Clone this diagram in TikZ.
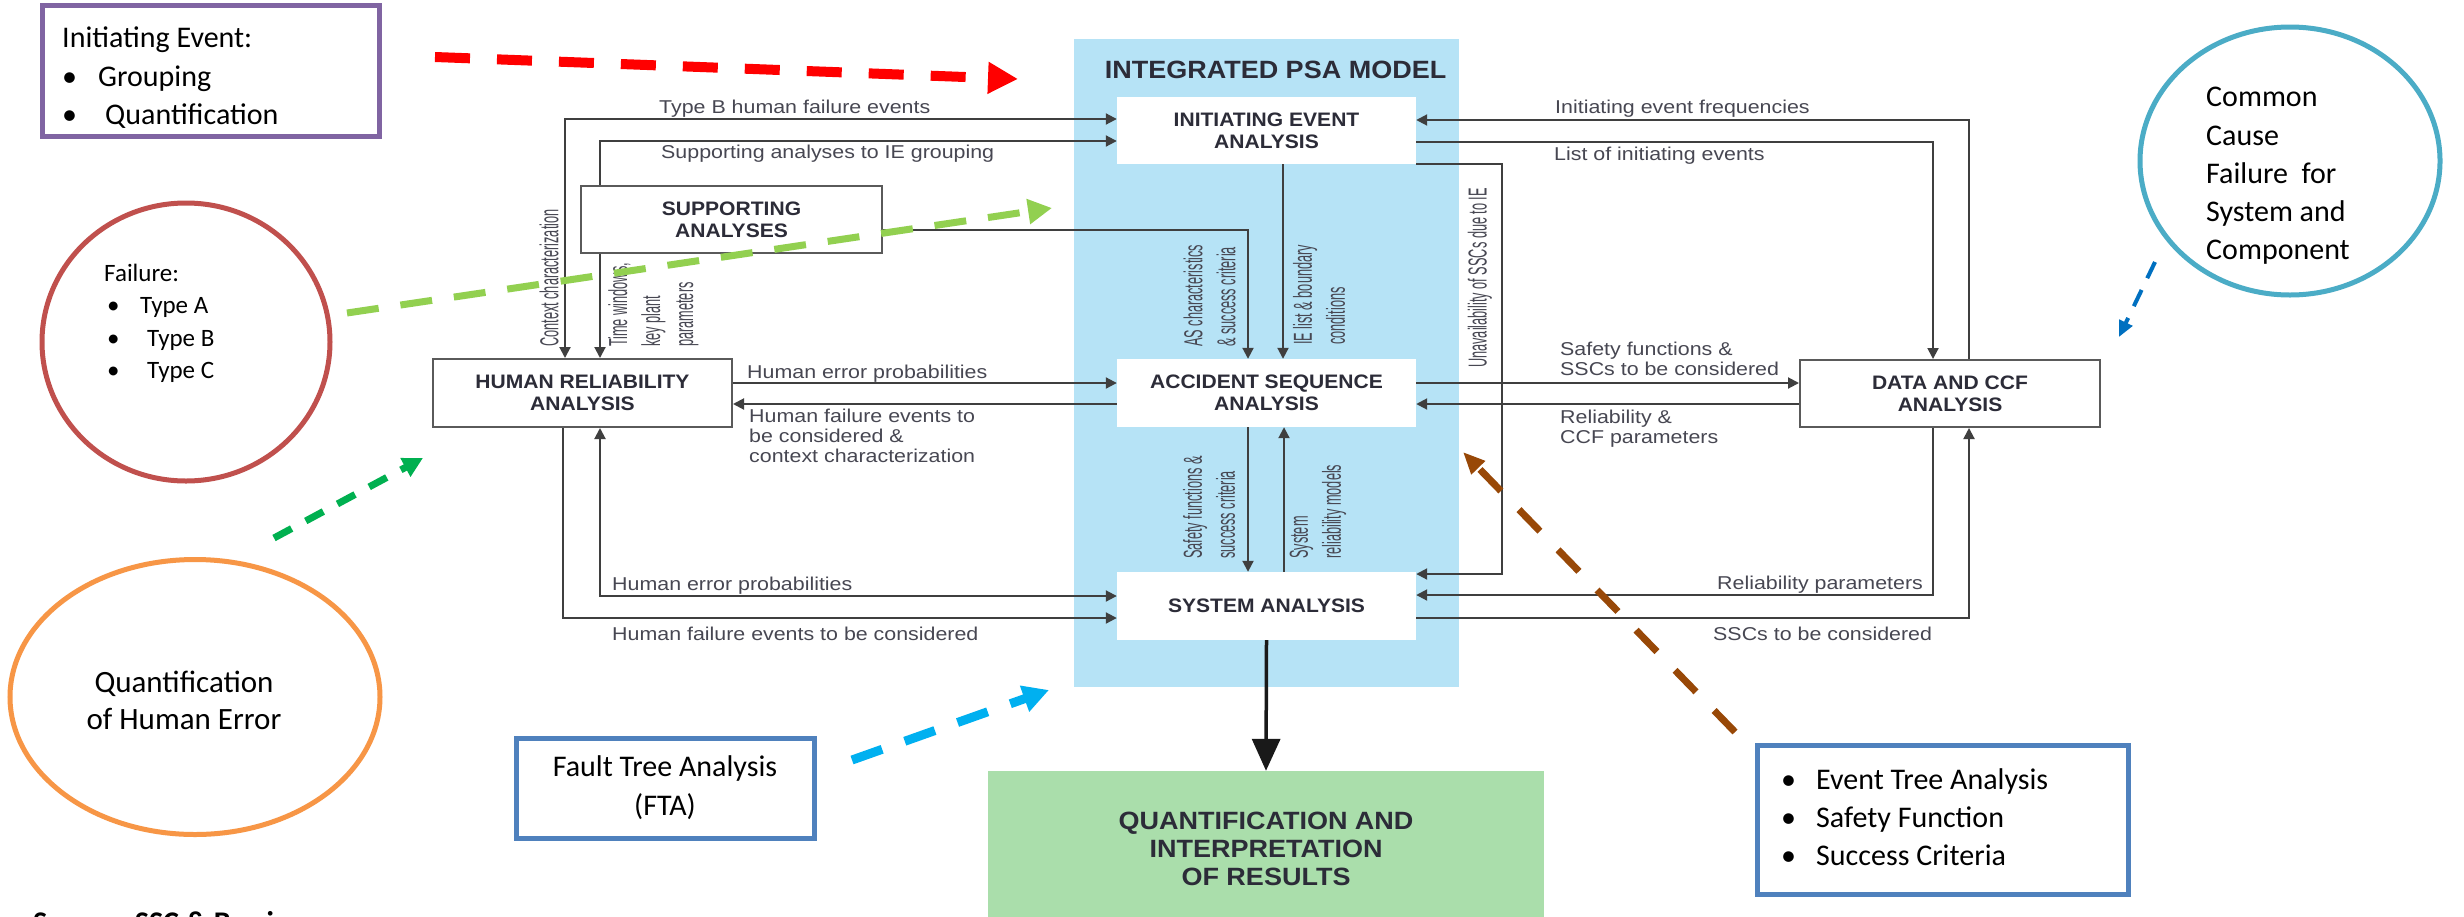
\documentclass[tikz,border=0pt]{standalone}
\usepackage{fontspec}
\setmainfont{Carlito}
\newfontfamily\lblfont[FakeStretch=1.15]{Liberation Sans}
\newfontfamily\rotfont[FakeStretch=0.49]{Liberation Sans}
\newfontfamily\ttlfont[FakeStretch=1.08]{Liberation Sans}
\usetikzlibrary{arrows.meta,shapes.geometric}

\definecolor{bandblue}{HTML}{B6E3F6}
\definecolor{resgreen}{HTML}{AADEAB}
\definecolor{linegray}{HTML}{3F3F3F}
\definecolor{boxgray}{HTML}{5A5A5A}
\definecolor{labgray}{HTML}{474752}
\definecolor{ttlgray}{HTML}{2C2C38}
\definecolor{purp}{HTML}{8064A2}
\definecolor{redc}{HTML}{C0504D}
\definecolor{orng}{HTML}{F79646}
\definecolor{ccfteal}{HTML}{4BACC6}
\definecolor{boxblue}{HTML}{4F81BD}
\definecolor{arrred}{HTML}{FF0000}
\definecolor{arrlgreen}{HTML}{92D050}
\definecolor{arrdgreen}{HTML}{00B050}
\definecolor{arrcyan}{HTML}{00B0F0}
\definecolor{arrbrown}{HTML}{984807}
\definecolor{arrblue}{HTML}{0070C0}

\begin{document}
\begin{tikzpicture}[x=1pt,y=-1pt,
  >={Triangle[length=11pt,width=11pt]},
  conn/.style={draw=linegray,line width=2pt},
  inbox/.style={fill=white,inner sep=0pt,minimum width=299pt,minimum height=67pt,
    align=center,text=ttlgray,font={\ttlfont\bfseries\fontsize{19.5}{22}\selectfont}},
  outbox/.style={inbox,draw=boxgray,line width=2pt},
  lab/.style={inner sep=0pt,anchor=base west,align=left,text=labgray,
    font={\lblfont\fontsize{18.6}{20}\selectfont}},
  rlab/.style={inner sep=0pt,rotate=90,anchor=west,align=left,text=labgray,
    font={\rotfont\fontsize{26}{33}\selectfont}},
  note/.style={inner sep=0pt,align=left,text=black,font={\fontsize{30}{38.5}\selectfont}},
  callout/.style={line width=#1},
]
\useasboundingbox (0,0) rectangle (2464,916);
\fill[white] (0,0) rectangle (2464,916);

% ---------- integrated PSA model ----------
\node[fill=bandblue,inner sep=0pt,minimum width=385pt,minimum height=648pt,anchor=north west] (band) at (1074,39) {};
\node[anchor=base,inner sep=0pt,text=ttlgray,font={\ttlfont\bfseries\fontsize{25}{28}\selectfont}] (bandtitle) at (1275.5,78) {INTEGRATED PSA MODEL};

\node[inbox] (iea) at (1266.5,130.5) {INITIATING EVENT\\ANALYSIS};
\node[inbox,minimum height=68pt] (asa) at (1266.5,393) {ACCIDENT SEQUENCE\\ANALYSIS};
\node[inbox,minimum height=68pt] (sys) at (1266.5,606) {SYSTEM ANALYSIS};
\node[outbox,minimum width=301pt] (supp) at (731.5,219.5) {SUPPORTING\\ANALYSES};
\node[outbox,minimum height=68pt] (hra) at (582.5,393) {HUMAN RELIABILITY\\ANALYSIS};
\node[outbox,minimum width=300pt] (data) at (1950,393.5) {DATA AND CCF\\ANALYSIS};
\node[fill=resgreen,inner sep=0pt,minimum width=556pt,minimum height=156pt,align=center,text=ttlgray,
  font={\ttlfont\bfseries\fontsize{25}{28}\selectfont}] (res) at (1266,849) {QUANTIFICATION AND\\INTERPRETATION\\OF RESULTS};

% ---------- connector levels ----------
\coordinate (kTB) at (565,119);
\coordinate (kSP) at (600,141);
\coordinate (kAS) at (1248,230);
\coordinate (kIE) at (1283,0);
\coordinate (kFR) at (1969,120);
\coordinate (kLI) at (1933,142);
\coordinate (kUN) at (1502,574);
\coordinate (kA) at (0,383);
\coordinate (kB) at (0,404);
\coordinate (kSF) at (1248,0);
\coordinate (kSR) at (1284,0);
\coordinate (kHE) at (600,596);
\coordinate (kHF) at (563,618);
\coordinate (kRP) at (1933,595);
\coordinate (kSS) at (1969,618);

\draw[conn,<->] (hra.north -| kTB) |- (iea.west |- kTB);
\draw[conn,->] (supp.north -| kSP) |- (iea.west |- kSP);
\draw[conn,->] (supp.south -| kSP) -- (hra.north -| kSP);
\draw[conn,->] (supp.east |- kAS) -| (asa.north -| kAS);
\draw[conn,->] (iea.south -| kIE) -- (asa.north -| kIE);
\draw[conn,->] (data.north -| kFR) |- (iea.east |- kFR);
\draw[conn,->] (iea.east |- kLI) -| (data.north -| kLI);
\draw[conn,->] (iea.south east) -| (kUN) -- (sys.east |- kUN);
\draw[conn,->] (hra.east |- kA) -- (asa.west |- kA);
\draw[conn,->] (asa.west |- kB) -- (hra.east |- kB);
\draw[conn,->] (asa.east |- kA) -- (data.west |- kA);
\draw[conn,->] (data.west |- kB) -- (asa.east |- kB);
\draw[conn,->] (asa.south -| kSF) -- (sys.north -| kSF);
\draw[conn,->] (sys.north -| kSR) -- (asa.south -| kSR);
\draw[conn,<->] (hra.south -| kHE) |- (sys.west |- kHE);
\draw[conn,->] (hra.south -| kHF) |- (sys.west |- kHF);
\draw[conn,->] (data.south -| kRP) |- (sys.east |- kRP);
\draw[conn,->] (sys.east |- kSS) -| (data.south -| kSS);
\draw[draw=black!90,line width=3.5pt,-{Triangle[length=32pt,width=28pt]}] (sys.south) -- (res.north);

% ---------- connector labels (base = last line) ----------
\node[lab] (l1) at (659,113) {Type B human failure events};
\node[lab] (l2) at (661,158) {Supporting analyses to IE grouping};
\node[lab] (l3) at (1555,113) {Initiating event frequencies};
\node[lab] (l4) at (1554,160) {List of initiating events};
\node[lab] (l5) at (747,378) {Human error probabilities};
\node[lab] (l6) at (749,462) {Human failure events to\\be considered \&\\context characterization};
\node[lab] (l7) at (1560,375) {Safety functions \&\\SSCs to be considered};
\node[lab] (l8) at (1560,443) {Reliability \&\\CCF parameters};
\node[lab] (l9) at (612,590) {Human error probabilities};
\node[lab] (l10) at (612,640) {Human failure events to be considered};
\node[lab] (l11) at (1717,589) {Reliability parameters};
\node[lab] (l12) at (1713,640) {SSCs to be considered};

\node[rlab] (r1) at (549,347) {Context characterization};
\node[rlab] (r2) at (653.5,347) {Time windows,\\key plant\\parameters};
\node[rlab] (r3) at (1209.5,347) {AS characteristics\\\& success criteria};
\node[rlab] (r4) at (1319,345) {IE list \& boundary\\conditions};
\node[rlab] (r5) at (1480,368) {Unavailability of SSCs due to IE};
\node[rlab] (r6) at (1209,559) {Safety functions \&\\success criteria};
\node[rlab] (r7) at (1318,559) {System\\reliability models};

% ---------- explanatory notes ----------
\node[draw=purp,line width=5pt,inner sep=0pt,minimum width=337pt,minimum height=131pt] (ievt) at (210.5,70.5) {};
\node[note,anchor=north west] (ievttext) at (62,27) {Initiating Event:\\\makebox[36pt][l]{\textbullet}Grouping\\\makebox[43pt][l]{\textbullet}Quantification};

\node[ellipse,draw=redc,line width=5pt,inner sep=0pt,minimum width=288pt,minimum height=278pt] (fail) at (186,342) {};
\node[note,anchor=north west,font={\fontsize{25}{32.3}\selectfont}] (failtext) at (104,264)
  {Failure:\\\makebox[36pt][l]{\hspace{3pt}\textbullet}Type A\\\makebox[43pt][l]{\hspace{3pt}\textbullet}Type B\\\makebox[43pt][l]{\hspace{3pt}\textbullet}Type C};

\node[ellipse,draw=orng,line width=5pt,inner sep=0pt,minimum width=370pt,minimum height=275pt] (qhe) at (195,697) {};
\node[align=center,inner sep=0pt,font={\fontsize{31}{37}\selectfont}] (qhetext) at (184,700) {Quantification\\of Human Error};

\node[ellipse,draw=ccfteal,line width=5pt,inner sep=0pt,minimum width=300pt,minimum height=268pt] (ccf) at (2290,161) {};
\node[note,anchor=west,font={\fontsize{30}{38.3}\selectfont}] (ccftext) at (2206,176) {Common\\Cause\\Failure\ \ for\\System and\\Component};

\node[draw=boxblue,line width=5pt,inner sep=0pt,minimum width=298pt,minimum height=100pt,align=center,
  font={\fontsize{30}{39}\selectfont}] (fta) at (665,788) {Fault Tree Analysis\\(FTA)};

\node[draw=boxblue,line width=5pt,inner sep=0pt,minimum width=371pt,minimum height=149pt] (eta) at (1942.5,819.5) {};
\node[note,anchor=north west,font={\fontsize{30}{38}\selectfont}] (etatext) at (1781,768)
  {\makebox[35pt][l]{\textbullet}Event Tree Analysis\\\makebox[35pt][l]{\textbullet}Safety Function\\\makebox[35pt][l]{\textbullet}Success Criteria};

\begin{scope}
\clip (0,0) rectangle (2464,916);
\node[anchor=base west,inner sep=0pt,font={\bfseries\fontsize{30}{36}\selectfont}] (src) at (33,932) {Source: SSC \& Barri};
\end{scope}

% ---------- dashed pointer arrows ----------
\coordinate (pR0) at (435,57);   \coordinate (pR1) at (1018,79);
\coordinate (pL0) at (347,313);  \coordinate (pL1) at (1052,208);
\coordinate (pD0) at (274,538);  \coordinate (pD1) at (423,458);
\coordinate (pC0) at (852,760);  \coordinate (pC1) at (1049,690);
\coordinate (pB0) at (1735,732); \coordinate (pB1) at (1463,452);
\coordinate (pU0) at (2155,262); \coordinate (pU1) at (2119,337);

\draw[callout=10pt,draw=arrred,dash pattern=on 35pt off 27pt,-{Triangle[length=30pt,width=30pt]}] (pR0) -- (pR1);
\draw[callout=7pt,draw=arrlgreen,dash pattern=on 32pt off 22pt,-{Triangle[length=24pt,width=24pt]}] (pL0) -- (pL1);
\draw[callout=7pt,draw=arrdgreen,dash pattern=on 20pt off 16pt,-{Triangle[length=20pt,width=20pt]}] (pD0) -- (pD1);
\draw[callout=9pt,draw=arrcyan,dash pattern=on 32pt off 24pt,-{Triangle[length=26pt,width=26pt]}] (pC0) -- (pC1);
\draw[callout=7pt,draw=arrbrown,dash pattern=on 30pt off 26pt,-{Triangle[length=22pt,width=18pt]}] (pB0) -- (pB1);
\draw[callout=4pt,draw=arrblue,dash pattern=on 18pt off 13pt,-{Triangle[length=16pt,width=14pt]}] (pU0) -- (pU1);
\end{tikzpicture}
\end{document}
